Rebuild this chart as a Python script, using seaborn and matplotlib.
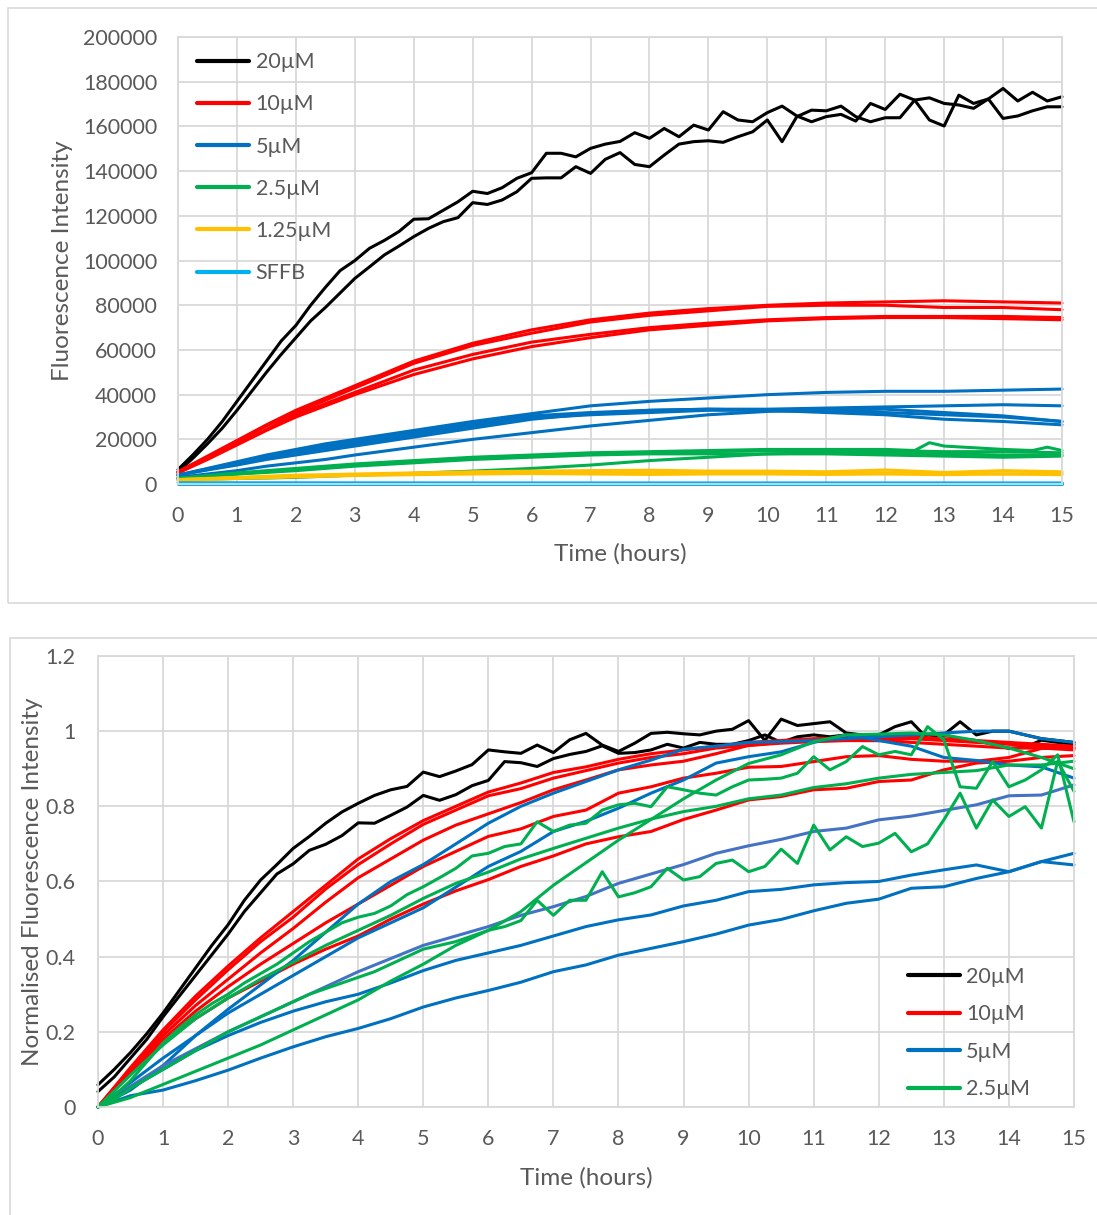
import numpy as np
import matplotlib.pyplot as plt
import seaborn as sns
from matplotlib.lines import Line2D
from matplotlib.patches import Rectangle

# sampling times (hours)
t_q = np.linspace(0, 15, 61)   # every 15 min (noisy traces)
t_h = np.linspace(0, 15, 31)   # every 30 min
t_s = [0, 0.5, 1, 1.5, 2, 2.5, 3, 4, 5, 6, 7, 8, 9, 10, 11, 12, 13, 14, 15]

# ---------------- top panel: raw fluorescence ----------------
raw_20_a = [6500, 13000, 20000, 28000, 37000, 46000, 55000, 64000, 71000, 80000, 88000, 95500,
            100000, 105500, 109000, 113000, 118500, 118700, 122500, 126300, 131000, 130000, 132600, 136800,
            139300, 148000, 148000, 146400, 150200, 152100, 153300, 157200, 154700, 159100, 155400, 160600,
            158400, 166600, 162900, 162100, 166200, 169100, 164700, 162100, 164400, 165400, 162400, 170300,
            167600, 174400, 171800, 162900, 160200, 174000, 170300, 172300, 177000, 171400, 175300, 171400,
            173300]
raw_20_b = [5500, 11500, 18000, 25000, 33000, 41500, 50000, 58000, 65500, 73000, 79000, 85500,
            92000, 97200, 102500, 106500, 110700, 114400, 117400, 119200, 125900, 125100, 127100, 130800,
            136800, 137000, 137000, 142000, 139000, 145300, 148300, 143000, 142000, 147200, 152100, 153200,
            153600, 152900, 155400, 157600, 162900, 153200, 164400, 167300, 167000, 169100, 164400, 162100,
            163900, 163900, 171800, 172800, 170300, 169600, 168100, 172300, 163600, 164700, 167000, 168800,
            168800]

raw_10 = [
    [5500, 12500, 19500, 26500, 33000, 38500, 44000, 55000, 63000, 69000, 73500, 76500, 78500, 80000, 81000, 81500, 82000, 81500, 81000],
    [5500, 12000, 19000, 26000, 32000, 37500, 43000, 54000, 62000, 67500, 72500, 75500, 77500, 79500, 80000, 80000, 79000, 79000, 78000],
    [5000, 11500, 18000, 24500, 31000, 36000, 41000, 51000, 58000, 63500, 67000, 70000, 72000, 73500, 74500, 75000, 75000, 75000, 74500],
    [5000, 11000, 17500, 24000, 30000, 35000, 40000, 49000, 56000, 61500, 65500, 69000, 71000, 73000, 74000, 74500, 74500, 74000, 73500],
]
raw_5 = [
    [4000, 7000, 10000, 13000, 15500, 18000, 20000, 24000, 28000, 31500, 35000, 37000, 38500, 40000, 41000, 41500, 41500, 42000, 42500],
    [4000, 6800, 9500, 12300, 15000, 17000, 19000, 23000, 27000, 30500, 32000, 33000, 33500, 33500, 34000, 34500, 35000, 35500, 35000],
    [4000, 6500, 9000, 11500, 14000, 16000, 18000, 22000, 26000, 29500, 31000, 32000, 33000, 33000, 32500, 32000, 31000, 30000, 28000],
    [4000, 6300, 8500, 11000, 13000, 15000, 17000, 21000, 25000, 29000, 31500, 33000, 33500, 33000, 32000, 31000, 29000, 28000, 26500],
    [3000, 4500, 6000, 8000, 9500, 11000, 13000, 16500, 20000, 23000, 26000, 28500, 31000, 32500, 33000, 33500, 32000, 30500, 28000],
]
t_g1 = [0, 0.5, 1, 1.5, 2, 2.5, 3, 4, 5, 6, 7, 8, 9, 10, 11, 12, 12.5, 12.75, 13, 14, 14.5, 14.75, 15]
raw_2_5_a = [2500, 3800, 5000, 6000, 7000, 8000, 9000, 10500, 12000, 13000, 14000, 14500, 15000, 15500,
             15500, 15500, 15000, 18500, 17000, 15500, 15000, 16500, 15000]
raw_2_5 = [
    [2500, 3500, 4500, 5500, 6500, 7500, 8500, 10000, 11500, 12500, 13500, 14000, 14500, 15000, 15000, 15000, 14500, 14500, 14000],
    [2500, 3500, 4500, 5200, 6000, 7000, 8000, 9500, 11000, 12000, 13000, 13500, 13500, 13500, 13500, 13000, 12500, 12000, 12500],
    [2000, 2200, 2500, 2700, 3000, 3500, 4000, 4800, 5800, 7000, 8500, 10500, 12000, 13500, 14000, 14000, 13500, 13000, 13000],
]
raw_1_25 = [
    [2000, 2500, 3000, 3500, 4000, 4200, 4500, 5000, 5500, 5800, 6000, 6200, 5800, 5800, 5500, 6300, 5200, 6000, 5500],
    [2000, 2400, 2800, 3200, 3500, 3800, 4000, 4500, 5000, 5300, 5200, 5000, 5000, 5300, 5000, 5000, 4800, 4500, 4800],
    [1500, 2000, 2500, 2800, 3200, 3500, 3800, 4200, 4500, 4700, 4500, 4300, 4500, 4500, 4300, 4500, 4200, 4500, 4200],
]
t_sffb = [0, 5, 10, 15]
raw_sffb = [[600, 500, 500, 500], [300, 300, 300, 300], [150, 150, 150, 150]]

# ---------------- bottom panel: normalised ----------------
norm_20_a = [0.059, 0.10, 0.145, 0.195, 0.25, 0.31, 0.37, 0.43, 0.485, 0.55, 0.604, 0.645,
             0.688, 0.72, 0.755, 0.785, 0.808, 0.829, 0.844, 0.853, 0.891, 0.879, 0.894, 0.911,
             0.950, 0.945, 0.941, 0.963, 0.943, 0.977, 0.994, 0.963, 0.946, 0.968, 0.994, 0.997,
             0.993, 0.99, 1.0, 1.005, 1.028, 0.975, 1.032, 1.015, 1.02, 1.025, 0.995, 0.99,
             0.99, 1.012, 1.025, 0.98, 0.99, 1.025, 0.99, 1.0, 1.0, 0.99, 0.98, 0.975,
             0.97]
norm_20_b = [0.041, 0.08, 0.13, 0.18, 0.24, 0.295, 0.35, 0.405, 0.46, 0.52, 0.57, 0.62,
             0.647, 0.683, 0.699, 0.722, 0.756, 0.755, 0.776, 0.798, 0.829, 0.816, 0.831, 0.855,
             0.869, 0.919, 0.916, 0.906, 0.927, 0.938, 0.946, 0.961, 0.941, 0.943, 0.95, 0.965,
             0.955, 0.97, 0.965, 0.965, 0.975, 0.99, 0.97, 0.985, 0.99, 0.985, 0.99, 0.975,
             0.975, 0.985, 0.99, 0.99, 0.99, 0.98, 0.975, 0.965, 0.954, 0.957, 0.976, 0.97,
             0.965]
norm_10 = [
    [0, 0.105, 0.205, 0.295, 0.375, 0.45, 0.52, 0.59, 0.66, 0.714, 0.762, 0.80, 0.838, 0.862, 0.89, 0.905,
     0.925, 0.94, 0.95, 0.96, 0.97, 0.975, 0.98, 0.982, 0.98, 0.985, 0.98, 0.975, 0.97, 0.965, 0.96],
    [0, 0.10, 0.20, 0.285, 0.365, 0.44, 0.505, 0.58, 0.645, 0.70, 0.752, 0.79, 0.828, 0.847, 0.875, 0.895,
     0.915, 0.93, 0.94, 0.955, 0.962, 0.968, 0.972, 0.975, 0.975, 0.98, 0.975, 0.97, 0.965, 0.96, 0.955],
    [0, 0.10, 0.19, 0.27, 0.34, 0.41, 0.475, 0.545, 0.61, 0.66, 0.71, 0.75, 0.78, 0.81, 0.844, 0.87,
     0.897, 0.91, 0.92, 0.94, 0.962, 0.97, 0.975, 0.975, 0.975, 0.97, 0.965, 0.96, 0.955, 0.955, 0.95],
    [0, 0.095, 0.18, 0.255, 0.32, 0.38, 0.435, 0.49, 0.54, 0.59, 0.64, 0.68, 0.72, 0.74, 0.773, 0.79,
     0.835, 0.852, 0.875, 0.888, 0.904, 0.906, 0.919, 0.932, 0.935, 0.925, 0.92, 0.92, 0.93, 0.954, 0.955],
    [0, 0.09, 0.17, 0.235, 0.29, 0.335, 0.38, 0.42, 0.455, 0.50, 0.54, 0.575, 0.605, 0.64, 0.668, 0.70,
     0.719, 0.733, 0.765, 0.79, 0.817, 0.826, 0.844, 0.848, 0.866, 0.87, 0.897, 0.915, 0.92, 0.93, 0.935],
]
norm_5 = [
    [0, 0.045, 0.11, 0.19, 0.26, 0.325, 0.39, 0.465, 0.54, 0.60, 0.645, 0.70, 0.755, 0.80, 0.835, 0.866,
     0.897, 0.923, 0.952, 0.96, 0.97, 0.972, 0.975, 0.98, 0.985, 0.99, 0.995, 1.0, 1.0, 0.98, 0.97],
    [0, 0.065, 0.13, 0.19, 0.25, 0.30, 0.35, 0.40, 0.45, 0.49, 0.53, 0.585, 0.64, 0.68, 0.733, 0.76,
     0.795, 0.835, 0.87, 0.915, 0.932, 0.945, 0.97, 0.99, 0.975, 0.96, 0.93, 0.922, 0.91, 0.905, 0.875],
    [0, 0.055, 0.11, 0.155, 0.20, 0.24, 0.28, 0.32, 0.36, 0.395, 0.43, 0.455, 0.48, 0.51, 0.533, 0.56,
     0.595, 0.62, 0.645, 0.675, 0.695, 0.712, 0.733, 0.742, 0.764, 0.774, 0.789, 0.804, 0.828, 0.83, 0.857],
    [0, 0.05, 0.10, 0.15, 0.19, 0.225, 0.255, 0.28, 0.30, 0.33, 0.363, 0.39, 0.41, 0.43, 0.455, 0.48,
     0.498, 0.511, 0.535, 0.55, 0.573, 0.579, 0.591, 0.597, 0.60, 0.617, 0.631, 0.644, 0.626, 0.653, 0.644],
    [0, 0.03, 0.045, 0.07, 0.098, 0.13, 0.16, 0.187, 0.209, 0.235, 0.266, 0.29, 0.31, 0.332, 0.36, 0.378,
     0.404, 0.422, 0.44, 0.46, 0.484, 0.499, 0.522, 0.542, 0.553, 0.582, 0.586, 0.608, 0.626, 0.653, 0.675],
]
norm_2_5_half = [
    [0, 0.025, 0.06, 0.095, 0.13, 0.165, 0.205, 0.245, 0.285, 0.335, 0.38, 0.43, 0.47, 0.52, 0.59, 0.65,
     0.71, 0.765, 0.82, 0.87, 0.914, 0.937, 0.972, 0.99, 0.992, 0.995, 0.99, 0.975, 0.955, 0.93, 0.90],
    [0, 0.085, 0.165, 0.235, 0.29, 0.34, 0.385, 0.43, 0.47, 0.51, 0.555, 0.595, 0.625, 0.66, 0.688, 0.715,
     0.742, 0.766, 0.786, 0.80, 0.82, 0.83, 0.85, 0.86, 0.875, 0.885, 0.89, 0.895, 0.91, 0.91, 0.92],
]
norm_2_5_b = [0, 0.03, 0.07, 0.12, 0.17, 0.21, 0.245, 0.275, 0.30, 0.33, 0.355, 0.38,
              0.41, 0.44, 0.465, 0.49, 0.505, 0.515, 0.535, 0.565, 0.586, 0.61, 0.635, 0.668,
              0.675, 0.693, 0.70, 0.759, 0.733, 0.750, 0.755, 0.790, 0.804, 0.808, 0.799, 0.852,
              0.844, 0.835, 0.830, 0.852, 0.870, 0.872, 0.875, 0.888, 0.932, 0.897, 0.919, 0.959,
              0.937, 0.946, 0.937, 1.012, 0.977, 0.852, 0.848, 0.919, 0.852, 0.870, 0.897, 0.937,
              0.759]
norm_2_5_e = [0, 0.02, 0.05, 0.075, 0.10, 0.125, 0.15, 0.175, 0.20, 0.22, 0.24, 0.26,
              0.28, 0.30, 0.315, 0.33, 0.345, 0.36, 0.38, 0.40, 0.42, 0.43, 0.44, 0.455,
              0.47, 0.48, 0.496, 0.55, 0.51, 0.55, 0.55, 0.626, 0.559, 0.57, 0.586, 0.635,
              0.604, 0.613, 0.648, 0.657, 0.626, 0.640, 0.686, 0.648, 0.750, 0.684, 0.719, 0.693,
              0.702, 0.728, 0.679, 0.70, 0.764, 0.835, 0.742, 0.817, 0.773, 0.799, 0.742, 0.92,
              0.84]

labels_top = ["20µM", "10µM", "5µM", "2.5µM", "1.25µM", "SFFB"]
colors_top = ["#000000", "#FF0000", "#0070C0", "#00B050", "#FFC000", "#00B0F0"]
blue_light = "#4472C4"
grid_col = "#D9D9D9"
text_col = "#595959"

sns.set_style("white")
plt.rcParams["font.family"] = ["Lato", "DejaVu Sans"]

fig = plt.figure(figsize=(10.97, 12.15), dpi=100)
ax1 = fig.add_axes([0.1623, 0.6016, 0.8058, 0.3679])
ax2 = fig.add_axes([0.0893, 0.0889, 0.8897, 0.3712])

# chart-area borders
fig.add_artist(Rectangle((8 / 1097, 1 - 603 / 1215), 1.0, 595 / 1215, transform=fig.transFigure,
                         fill=False, ec=grid_col, lw=1.2))
fig.add_artist(Rectangle((10 / 1097, -0.02), 1.0, 0.02 + 1 - 638 / 1215, transform=fig.transFigure,
                         fill=False, ec=grid_col, lw=1.2))


def draw(ax, t, y, color, lw=2.2):
    sns.lineplot(x=t, y=y, color=color, lw=lw, ax=ax, estimator=None, sort=False, clip_on=False)


# top panel
draw(ax1, t_q, raw_20_a, colors_top[0])
draw(ax1, t_q, raw_20_b, colors_top[0])
for y in raw_10:
    draw(ax1, t_s, y, colors_top[1])
for y in raw_5:
    draw(ax1, t_s, y, colors_top[2])
draw(ax1, t_g1, raw_2_5_a, colors_top[3])
for y in raw_2_5:
    draw(ax1, t_s, y, colors_top[3])
for y in raw_1_25:
    draw(ax1, t_s, y, colors_top[4])
for y in raw_sffb:
    draw(ax1, t_sffb, y, colors_top[5])

# bottom panel
draw(ax2, t_q, norm_20_a, colors_top[0])
draw(ax2, t_q, norm_20_b, colors_top[0])
for y in norm_10:
    draw(ax2, t_h, y, colors_top[1])
for i, y in enumerate(norm_5):
    draw(ax2, t_h, y, blue_light if i == 2 else colors_top[2])
for y in norm_2_5_half:
    draw(ax2, t_h, y, colors_top[3])
draw(ax2, t_q, norm_2_5_b, colors_top[3])
draw(ax2, t_q, norm_2_5_e, colors_top[3])

for ax in (ax1, ax2):
    ax.grid(True, color=grid_col, lw=1.3)
    ax.set_axisbelow(True)
    for s in ax.spines.values():
        s.set_color(grid_col)
        s.set_linewidth(1.3)
    ax.set_xlim(0, 15)
    ax.set_xticks(range(16))

ax1.set_ylim(0, 200000)
ax1.set_yticks(range(0, 200001, 20000))
ax1.yaxis.set_major_formatter(lambda v, p: f"{int(v)}")
ax1.tick_params(axis="y", length=0, labelsize=15.5, colors=text_col, pad=15)
ax1.tick_params(axis="x", length=0, labelsize=15.5, colors=text_col, pad=16)
ax1.set_xlabel("Time (hours)", fontsize=17.5, color=text_col, labelpad=12)
ax1.set_ylabel("Fluorescence Intensity", fontsize=17.5, color=text_col, labelpad=7)

ax2.set_ylim(0, 1.2)
ax2.set_yticks([0, 0.2, 0.4, 0.6, 0.8, 1.0, 1.2])
ax2.yaxis.set_major_formatter(lambda v, p: f"{v:.1f}".rstrip("0").rstrip(".") if v else "0")
ax2.tick_params(axis="y", length=0, labelsize=15.5, colors=text_col, pad=16)
ax2.tick_params(axis="x", length=0, labelsize=15.5, colors=text_col, pad=16)
ax2.set_xlabel("Time (hours)", fontsize=17.5, color=text_col, labelpad=13)
ax2.set_ylabel("Normalised Fluorescence Intensity", fontsize=17.5, color=text_col, labelpad=2)

h_top = [Line2D([], [], color=c, lw=3) for c in colors_top]
ax1.legend(h_top, labels_top, loc="upper left", bbox_to_anchor=(0.022, 0.966), frameon=False,
           fontsize=15.5, handlelength=2.4, handletextpad=0.3, labelspacing=1.03,
           borderaxespad=0, borderpad=0, labelcolor=text_col)
h_bot = [Line2D([], [], color=c, lw=3) for c in colors_top[:4]]
ax2.legend(h_bot, labels_top[:4], loc="upper left", bbox_to_anchor=(0.83, 0.311), frameon=False,
           fontsize=15.5, handlelength=2.4, handletextpad=0.3, labelspacing=0.81,
           borderaxespad=0, borderpad=0, labelcolor=text_col)

fig.savefig("out.png", dpi=100)
